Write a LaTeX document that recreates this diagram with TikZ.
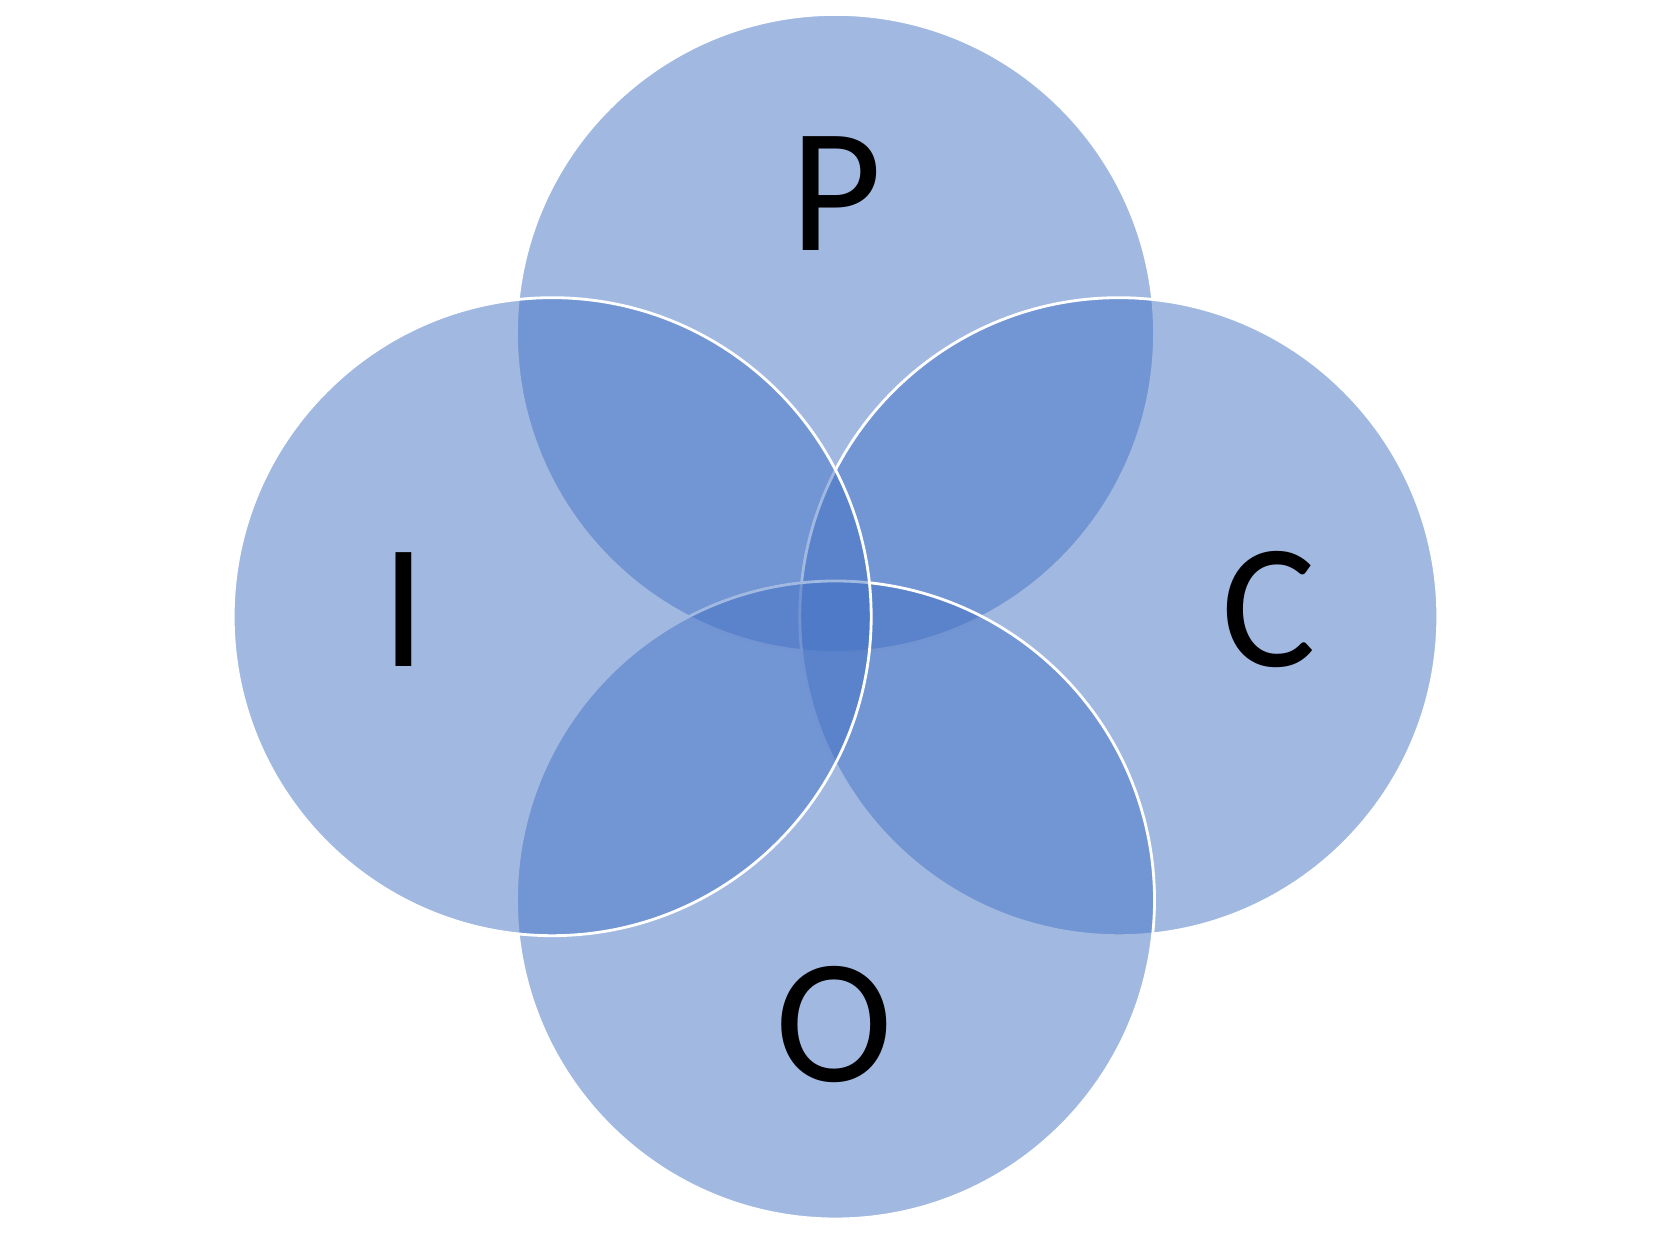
\documentclass[tikz,border=0pt]{standalone}
\usepackage{fontspec}
\setmainfont{Carlito}
\usepackage{tikz}
\usetikzlibrary{positioning}
\definecolor{vennblue}{HTML}{4472C4}

\begin{document}
\begin{tikzpicture}[
            vcirc/.style={circle, draw=white, line width=0.8pt, fill=vennblue, fill opacity=0.5, minimum size=6.38cm, inner sep=0pt},
            vlabel/.style={anchor=base, inner sep=0pt, font=\fontsize{50.5}{58}\selectfont}
        ]
        \useasboundingbox (0,0) rectangle (16.70,12.44);
        % --- circles, back to front ---
        \node[vcirc] (P) at (8.355, 9.106) {};
        \node[vcirc] (C) at (11.188, 6.273) {};
        \node[vcirc] (O) at (8.355, 3.440) {};
        \node[vcirc] (I) at (5.522, 6.273) {};
        % --- letters ---
        \node[vlabel] (Ptext) at (8.365, 9.937) {P};
        \node[vlabel] (Ctext) at (12.685, 5.773) {C};
        \node[vlabel] (Otext) at (8.340, 1.620) {O};
        \node[vlabel] (Itext) at (4.035, 5.773) {I};
        \end{tikzpicture}
\end{document}
